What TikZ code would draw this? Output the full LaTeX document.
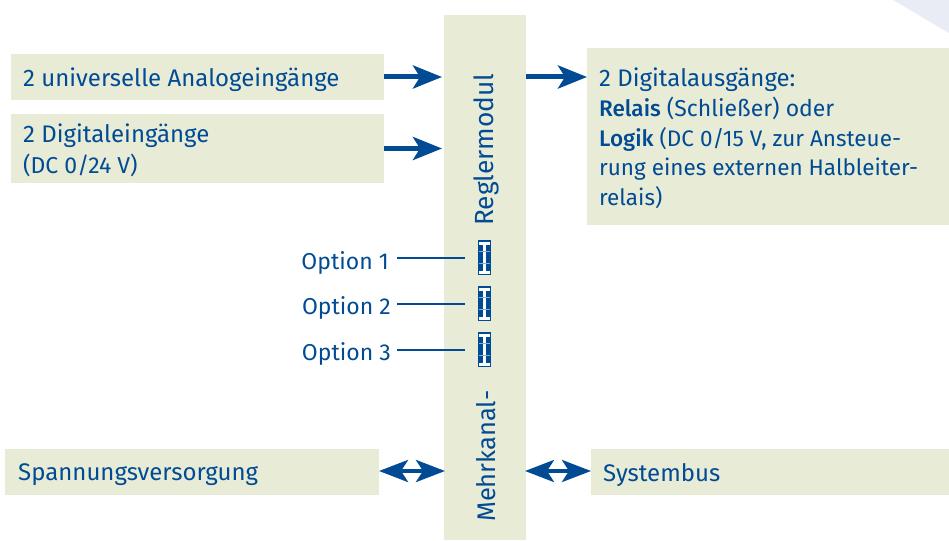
\documentclass[tikz,border=0pt]{standalone}
\usepackage{fontspec}
\setmainfont[BoldFont={Fira Sans Medium}]{Fira Sans}
\usetikzlibrary{arrows.meta,calc}
\definecolor{boxgreen}{HTML}{E8ECD7}
\definecolor{dblue}{HTML}{004B93}
\definecolor{cornerblue}{HTML}{E9ECF5}
\tikzset{
  x=1pt,y=-1pt,
  greenbox/.style={fill=boxgreen,draw=none,inner sep=0pt,outer sep=0pt,minimum width=#1},
  lbl/.style={text=dblue,font=\fontsize{24}{29.5}\selectfont,inner sep=0pt,anchor=west,align=left},
  vlbl/.style={text=dblue,font=\fontsize{25.5}{26}\selectfont,inner sep=0pt,rotate=90},
  bigarrow/.style={draw=dblue,line width=5pt,-{Stealth[length=29pt,width=23pt,inset=7pt,fill=dblue]}},
  dblarrow/.style={draw=dblue,line width=4pt,{Stealth[length=29pt,width=22pt,inset=7pt,fill=dblue]}-{Stealth[length=29pt,width=22pt,inset=7pt,fill=dblue]}},
  optline/.style={draw=dblue,line width=2.6pt},
  socket/.style={fill=dblue,draw=none,minimum width=13pt,minimum height=35pt,inner sep=0pt,outer sep=0pt},
}
\begin{document}
\begin{tikzpicture}
\useasboundingbox (0,0) rectangle (949,540);
\fill[cornerblue] (893,0) -- (949,0) -- (949,33) -- cycle;
% boxes
\node[greenbox=373pt,minimum height=46pt] (ana) at (197.5,77) {};
\node[greenbox=373pt,minimum height=69pt] (dig) at (197.5,148.5) {};
\node[greenbox=82pt,minimum height=525pt] (main) at (485,277.5) {};
\node[greenbox=362pt,minimum height=177pt] (out) at (768,136.5) {};
\node[greenbox=374pt,minimum height=46pt] (pow) at (192,472) {};
\node[greenbox=358pt,minimum height=46pt] (bus) at (770,472) {};
% box texts
\node[lbl] (tana) at (23,80) {2 universelle Analogeingänge};
\node[lbl,anchor=north west] (tdig) at (23,124) {2 Digitaleingänge\\[1pt]{\fontsize{23}{24}\selectfont (DC 0/24 V)}};
\node[lbl,anchor=north west,font=\fontsize{22.5}{29.5}\selectfont] (tout) at (599,68) {{\fontsize{24}{29.5}\selectfont 2 Digitalausgänge:}\\[.5pt]\textbf{Relais}{\fontsize{23}{29.5}\selectfont{} (Schließer) oder}\\\textbf{Logik} (DC 0/15 V, zur Ansteue-\\rung eines externen Halbleiter-\\relais)};
\node[lbl] (tpow) at (18,475) {Spannungsversorgung};
\node[lbl] (tbus) at (603,475) {Systembus};
\node[vlbl,anchor=west] (t1) at (486,522) {Mehrkanal-};
\node[vlbl,anchor=west,font=\fontsize{26.3}{26}\selectfont] (t2) at (486,226) {Reglermodul};
% option sockets
\node[socket] (s1) at (484.5,257.5) {};
\node[socket] (s2) at (484.5,303.5) {};
\node[socket] (s3) at (484.5,349.5) {};
\foreach \s in {s1,s2,s3}{
  \fill[white] ($(\s)+(-1.8,-16)$) rectangle ($(\s)+(1.8,16)$);
  \fill[white] ($(\s)+(-5.3,-16)$) rectangle ($(\s)+(5.3,-13)$);
  \fill[white] ($(\s)+(-5.3,13)$) rectangle ($(\s)+(5.3,16)$);
  \fill[white!55!dblue] ($(\s)+(-5.3,-6.2)$) rectangle ($(\s)+(5.3,-5.2)$);
  \fill[white!55!dblue] ($(\s)+(-5.3,5.2)$) rectangle ($(\s)+(5.3,6.2)$);
}
\node[lbl,anchor=east,font=\fontsize{23}{29}\selectfont] (o1) at (389,263) {Option 1};
\node[lbl,anchor=east,font=\fontsize{23}{29}\selectfont] (o2) at (391,308) {Option 2};
\node[lbl,anchor=east,font=\fontsize{23}{29}\selectfont] (o3) at (391,354) {Option 3};
\coordinate (a1) at (397,258);
\coordinate (a2) at (397,304);
\coordinate (a3) at (397,350);
\draw[optline,shorten >=13pt] (a1) -- (a1 -| s1.west);
\draw[optline,shorten >=13pt] (a2) -- (a2 -| s2.west);
\draw[optline,shorten >=13pt] (a3) -- (a3 -| s3.west);
% arrows
\draw[bigarrow,shorten >=2pt] (ana.east) -- (ana.east -| main.west);
\draw[bigarrow,shorten >=2pt] (dig.east) -- (dig.east -| main.west);
\coordinate (outy) at (out.west |- ana.east);
\draw[bigarrow] (outy -| main.east) -- (outy);
\coordinate (py) at (pow.east |- 0,471);
\draw[dblarrow] (py) -- ([xshift=1pt]py -| main.west);
\coordinate (by) at (bus.west |- 0,471);
\draw[dblarrow] ([xshift=-1pt]by -| main.east) -- (by);
\end{tikzpicture}
\end{document}
